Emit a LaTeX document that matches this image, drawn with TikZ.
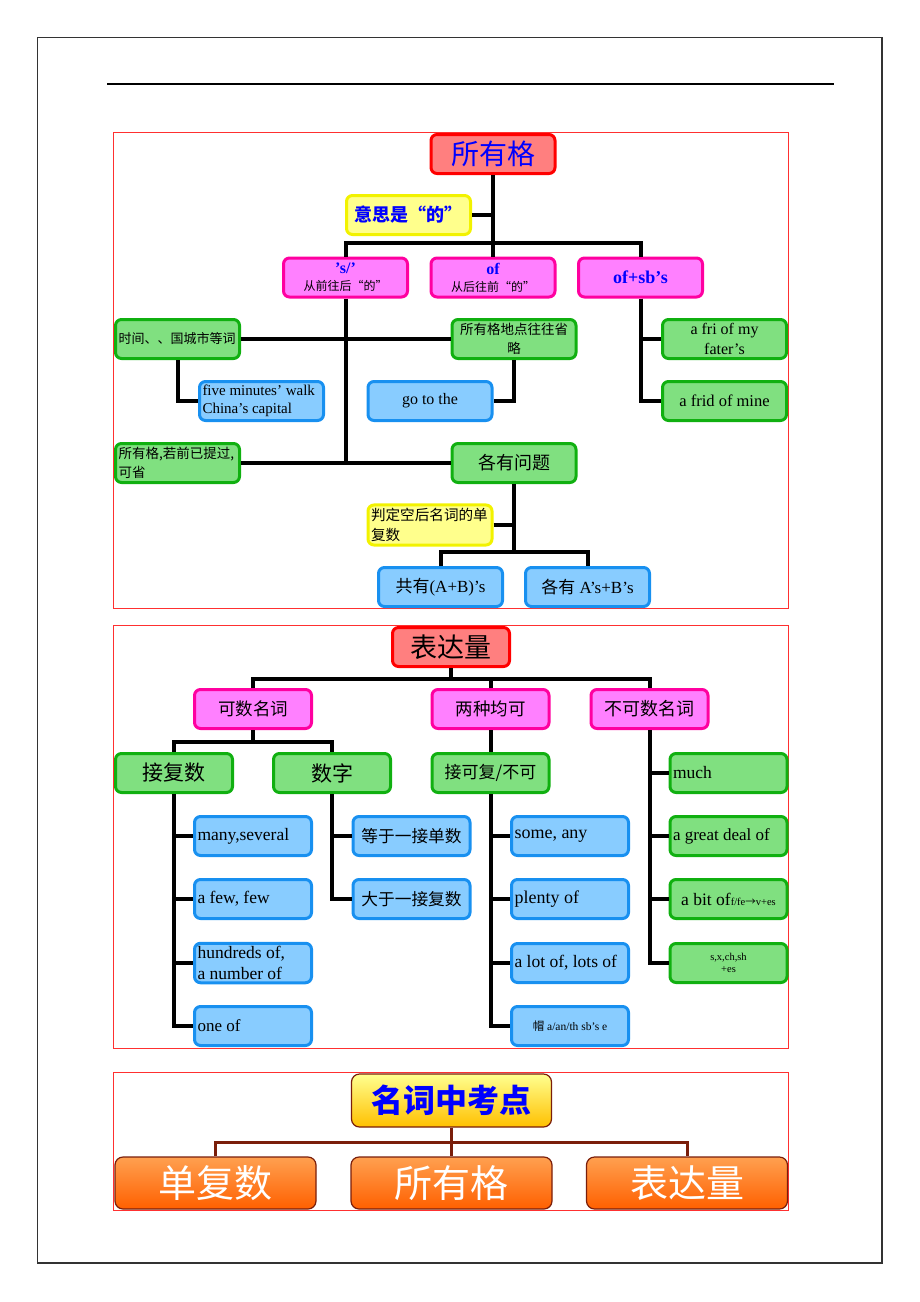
\documentclass[tikz,border=0pt]{standalone}
\usepackage{fontspec}
\setmainfont{Liberation Serif}
\newfontfamily\cjk{Noto Sans CJK SC}
\usepackage{xcolor}
\usetikzlibrary{positioning}

\definecolor{rootfill}{HTML}{FF7F7F}
\definecolor{rootline}{HTML}{FF0000}
\definecolor{ylwfill}{HTML}{FFFF8C}
\definecolor{ylwline}{HTML}{F2F200}
\definecolor{pinkfill}{HTML}{FF80FF}
\definecolor{pinkline}{HTML}{FF00A0}
\definecolor{grnfill}{HTML}{80E080}
\definecolor{grnline}{HTML}{10B010}
\definecolor{bluefill}{HTML}{88CCFF}
\definecolor{blueline}{HTML}{1890F0}
\definecolor{orgtop}{HTML}{FFA050}
\definecolor{orgbot}{HTML}{FF6000}
\definecolor{kdtop}{HTML}{FFFF90}
\definecolor{kdbot}{HTML}{FFC000}
\definecolor{brownline}{HTML}{7A1E0A}
\definecolor{panelred}{HTML}{FF3030}
\definecolor{txtblue}{HTML}{0000FF}

\tikzset{
  bx/.style={rectangle, rounded corners=6pt, line width=3pt, minimum height=39pt, inner sep=3pt, align=flush center},
  lft/.style={align=flush left},
  wa/.style={text width=118pt},
  wb/.style={text width=111pt},
  redbox/.style={bx, fill=rootfill, draw=rootline},
  ylwbox/.style={bx, fill=ylwfill, draw=ylwline},
  pinkbox/.style={bx, fill=pinkfill, draw=pinkline},
  grnbox/.style={bx, fill=grnfill, draw=grnline},
  bluebox/.style={bx, fill=bluefill, draw=blueline},
  orgbox/.style={rectangle, rounded corners=8pt, line width=1.2pt, draw=brownline, top color=orgtop, bottom color=orgbot, text=white, minimum width=201pt, minimum height=52pt},
  zh/.style={font=\cjk\linespread{1.4}\fontsize{#1}{#1}\selectfont},
  en/.style={font=\linespread{1.2}\fontsize{#1}{#1}\selectfont},
  conn/.style={line width=4pt},
  brconn/.style={line width=3pt, draw=brownline},
  panel/.style={draw=panelred, line width=1pt}
}

\begin{document}
\begin{tikzpicture}[x=1pt,y=-1pt]
\useasboundingbox (0,0) rectangle (920,1302);

% page frame and header rule
\draw[black!80, line width=1.2pt] (37.5,37.5) rectangle (882,1263);
\draw[line width=1.2pt] (107,84) -- (834,84);

% panel frames
\draw[panel] (113.5,132) rectangle (788.5,608);
\draw[panel] (113.5,625) rectangle (788.5,1048);
\draw[panel] (113.5,1072) rectangle (788.5,1210.5);

% ---- 所有格 ----
\node[redbox, wa, text=txtblue, zh=28] (root) at (493,154) {所有格};
\node[ylwbox, wa, text=txtblue, zh=18] (yisi) at (408.5,215) {\bfseries 意思是“的”};

\node[pinkbox, wa, font=\fontsize{12}{17}\selectfont] (sq) at (345.5,277.5) {{\fontsize{16}{17}\selectfont\bfseries\color{txtblue}’s/’}\\{\cjk 从前往后“的”}};
\node[pinkbox, wa, font=\fontsize{12}{17}\selectfont] (of) at (493,277.5) {{\fontsize{16}{17}\selectfont\bfseries\color{txtblue}of}\\{\cjk 从后往前“的”}};
\node[pinkbox, wa, text=txtblue, en=18] (ofsb) at (640.5,277.5) {\bfseries of+sb’s};

\node[grnbox, wa, lft, zh=13] (shi) at (177.5,339) {时间、、国城市等词};
\node[grnbox, wa, zh=13.5] (sheng) at (514,339) {所有格地点往往省\\略};
\node[grnbox, wa, en=16] (fri) at (724.5,339) {a fri of my\\fater’s};

\node[bluebox, wa, lft, en=15] (five) at (261.5,401) {five minutes’ walk\\China’s capital};
\node[bluebox, wa, en=16] (go) at (430,401) {go to the};
\node[grnbox, wa, en=16.5] (frid) at (724.5,401) {a frid of mine};

\node[grnbox, wa, lft, zh=13.5] (ruo) at (177.5,463) {所有格,若前已提过,\\可省};
\node[grnbox, wa, zh=18] (ge) at (514,463) {各有问题};

\node[ylwbox, wa, lft, zh=14.6] (pan) at (430,525) {判定空后名词的单\\复数};

\node[bluebox, wa, en=17] (gong) at (440.5,587) {{\cjk 共有}(A+B)’s};
\node[bluebox, wa, en=17] (ge2) at (587.5,587) {{\cjk 各有} A’s+B’s};

% connectors
\coordinate (b1) at (493,243);
\draw[conn] (root.south) -- (of.north);
\draw[conn] (yisi.east) -- (yisi.east -| root.south);
\draw[conn] (sq.north) |- (b1) -| (ofsb.north);
\draw[conn] (sq.south) -- (sq.south |- ruo.east);
\draw[conn] (shi.east) -- (sheng.west);
\draw[conn] (ruo.east) -- (ge.west);
\draw[conn] (shi.south) |- (five.west);
\draw[conn] (sheng.south) |- (go.east);
\draw[conn] (ofsb.south) |- (fri.west);
\draw[conn] (ofsb.south) |- (frid.west);
\coordinate (b2) at (514,552);
\draw[conn] (ge.south) -- (b2);
\draw[conn] (pan.east) -- (pan.east -| ge.south);
\draw[conn] (gong.north) |- (b2) -| (ge2.north);

% ---- 表达量 ----
\node[redbox, wb, zh=27] (biao) at (451,647) {表达量};

\node[pinkbox, wb, zh=17.5] (ks) at (253,709) {可数名词};
\node[pinkbox, wb, zh=17.5] (lz) at (490.5,709) {两种均可};
\node[pinkbox, wb, zh=18] (bks) at (649.5,709) {不可数名词};

\node[grnbox, wb, zh=21] (jf) at (174,773) {接复数};
\node[grnbox, wb, zh=21] (sz) at (332,773) {数字};
\node[grnbox, wb, zh=17] (jk) at (490.5,773) {接可复/不可};
\node[grnbox, wb, lft, en=17.5] (much) at (728.5,773) {much};

\node[bluebox, wb, lft, en=17.5] (many) at (253,836) {many,several};
\node[bluebox, wb, lft, en=17.5] (few) at (253,899) {a few, few};
\node[bluebox, wb, lft, en=17.5] (hund) at (253,963) {hundreds of,\\a number of};
\node[bluebox, wb, lft, en=17] (one) at (253,1026) {one of};

\node[bluebox, wb, zh=16.7] (szd) at (411.5,836) {等于一接单数};
\node[bluebox, wb, zh=16.7] (szx) at (411.5,899) {大于一接复数};

\node[bluebox, wb, lft, en=18] (some) at (570,836) {some, any};
\node[bluebox, wb, lft, en=18] (plenty) at (570,899) {plenty of};
\node[bluebox, wb, lft, en=17.5] (lot) at (570,963) {a lot of, lots of};
\node[bluebox, wb, en=11.5] (mao) at (570,1026) {{\cjk 帽} a/an/th sb’s e};

\node[grnbox, wb, lft, en=17] (great) at (728.5,836) {a great deal of};
\node[grnbox, wb, en=17.5] (bit) at (728.5,899) {a bit of{\fontsize{10.5}{10.5}\selectfont f/fe{\cjk →}v+es}};
\node[grnbox, wb, en=10.5] (sx) at (728.5,963) {s,x,ch,sh\\+es};

% connectors
\coordinate (b3) at (451,679);
\draw[conn] (biao.south) -- (b3);
\draw[conn] (ks.north) |- (b3) -| (bks.north);
\draw[conn] (b3) -| (lz.north);
\coordinate (b4) at (253,742);
\draw[conn] (ks.south) -- (b4);
\draw[conn] (jf.north) |- (b4) -| (sz.north);
\draw[conn] (lz.south) -- (jk.north);
\foreach \n in {many,few,hund,one} \draw[conn] (jf.south) |- (\n.west);
\foreach \n in {szd,szx} \draw[conn] (sz.south) |- (\n.west);
\foreach \n in {some,plenty,lot,mao} \draw[conn] (jk.south) |- (\n.west);
\foreach \n in {much,great,bit,sx} \draw[conn] (bks.south) |- (\n.west);

% ---- 名词中考点 ----
\node[rectangle, rounded corners=8pt, line width=1.2pt, draw=brownline, top color=kdtop, bottom color=kdbot, text=txtblue, minimum width=200pt, minimum height=53pt, zh=32] (kd) at (451.5,1100.5) {\bfseries 名词中考点};

\node[orgbox, zh=38] (dfs) at (215.5,1183) {单复数};
\node[orgbox, zh=38] (syg) at (451.5,1183) {所有格};
\node[orgbox, zh=38] (bdl) at (687,1183) {表达量};

\coordinate (b5) at (451.5,1142);
\draw[brconn] (kd.south) -- (b5);
\draw[brconn] (dfs.north) |- (b5) -| (bdl.north);
\draw[brconn] (b5) -- (syg.north);

\end{tikzpicture}
\end{document}
